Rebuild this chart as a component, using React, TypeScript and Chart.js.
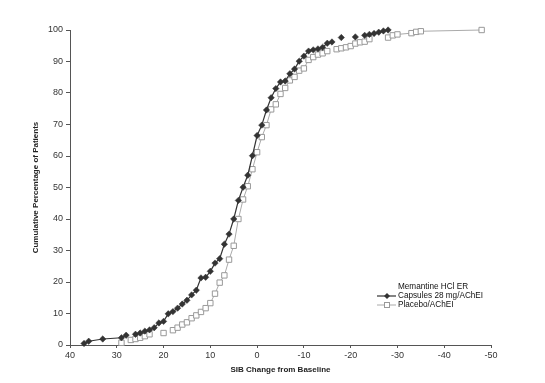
import React, { useEffect, useRef } from "react";
import { Chart, registerables } from "chart.js";

Chart.register(...registerables);

const memX = [37, 36, 33, 29, 28, 26, 25, 24, 23, 22, 21, 20, 19, 18, 17, 16, 15, 14, 13, 12, 11, 10, 9, 8, 7, 6, 5, 4, 3, 2, 1, 0, -1, -2, -3, -4, -5, -6, -7, -8, -9, -10, -11, -12, -13, -14, -15, -16, -18, -21, -23, -24, -25, -26, -27, -28];
const memY = [0.5, 1.2, 1.9, 2.3, 3.1, 3.4, 3.8, 4.4, 4.8, 5.5, 7.0, 7.5, 9.9, 10.6, 11.7, 13.0, 14.2, 15.9, 17.4, 21.3, 21.5, 23.4, 26.0, 27.4, 32.0, 35.2, 40.0, 45.9, 50.1, 53.9, 60.1, 66.5, 69.8, 74.6, 78.5, 81.4, 83.5, 83.8, 86.1, 87.6, 90.1, 91.7, 93.3, 93.7, 94.0, 94.5, 95.8, 96.2, 97.6, 97.8, 98.3, 98.6, 98.9, 99.3, 99.7, 100];

const plaX = [29, 27, 26, 25, 24, 23, 20, 18, 17, 16, 15, 14, 13, 12, 11, 10, 9, 8, 7, 6, 5, 4, 3, 2, 1, 0, -1, -2, -3, -4, -5, -6, -7, -8, -9, -10, -11, -12, -13, -14, -15, -17, -18, -19, -20, -21, -22, -23, -24, -28, -29, -30, -33, -34, -35, -48];
const plaY = [0.7, 1.6, 1.9, 2.3, 2.8, 3.4, 3.8, 4.7, 5.5, 6.5, 7.2, 8.5, 9.4, 10.5, 11.7, 13.3, 16.3, 19.8, 22.1, 27.1, 31.5, 40.0, 46.2, 50.4, 55.8, 61.2, 66.0, 69.8, 74.8, 76.4, 79.7, 81.6, 84.0, 85.1, 87.1, 87.8, 90.5, 91.4, 92.2, 92.6, 93.3, 93.9, 94.2, 94.5, 94.9, 95.7, 96.1, 96.3, 97.1, 97.6, 98.3, 98.6, 99.0, 99.4, 99.6, 100];

const xTickValues = [40, 30, 20, 10, 0, -10, -20, -30, -40, -50];
const yTickValues = [0, 10, 20, 30, 40, 50, 60, 70, 80, 90, 100];

const legendLines = ["Memantine HCl ER", "Capsules 28 mg/AChEI", "Placebo/AChEI"];
const xTitle = "SIB Change from Baseline";
const yTitle = "Cumulative Percentage of Patients";

const MEM_COLOR = "#333333";
const PLA_LINE = "#aaaaaa";
const PLA_POINT = "#999999";
const FONT = "'Liberation Sans', Arial, Helvetica, sans-serif";

// rows present in the source table (union of x values); a series line breaks where it has a blank row
const allX = Array.from(new Set([...memX, ...plaX]));
const hasGapBetween = (a: number, b: number) => {
  const lo = Math.min(a, b), hi = Math.max(a, b);
  return allX.some((v) => v > lo && v < hi);
};

const legendPlugin = {
  id: "customLegend",
  afterDraw(chart: any) {
    const ctx = chart.ctx;
    ctx.save();
    ctx.font = `8.2px ${FONT}`;
    ctx.fillStyle = "#111";
    ctx.textBaseline = "middle";
    ctx.textAlign = "left";
    const tx = 398;
    ctx.fillText(legendLines[0], tx, 287);
    ctx.fillText(legendLines[1], tx, 296);
    ctx.fillText(legendLines[2], tx, 305);
    // memantine sample
    ctx.strokeStyle = MEM_COLOR;
    ctx.lineWidth = 1.2;
    ctx.beginPath();
    ctx.moveTo(377, 296);
    ctx.lineTo(396, 296);
    ctx.stroke();
    ctx.fillStyle = MEM_COLOR;
    ctx.beginPath();
    ctx.moveTo(387, 293);
    ctx.lineTo(390, 296);
    ctx.lineTo(387, 299);
    ctx.lineTo(384, 296);
    ctx.closePath();
    ctx.fill();
    // placebo sample
    ctx.strokeStyle = PLA_LINE;
    ctx.lineWidth = 1;
    ctx.beginPath();
    ctx.moveTo(377, 305);
    ctx.lineTo(396, 305);
    ctx.stroke();
    ctx.fillStyle = "#fff";
    ctx.fillRect(384.5, 302.5, 5, 5);
    ctx.strokeStyle = PLA_POINT;
    ctx.strokeRect(384.5, 302.5, 5, 5);
    ctx.restore();
  },
};

export default function App() {
  const ref = useRef<HTMLCanvasElement | null>(null);
  useEffect(() => {
    document.body.style.margin = "0";
    if (!ref.current) return;
    const chart = new Chart(ref.current, {
      type: "line",
      data: {
        datasets: [
          {
            label: "Memantine HCl ER Capsules 28 mg/AChEI",
            data: memX.map((x, i) => ({ x, y: memY[i] })),
            borderColor: MEM_COLOR,
            backgroundColor: MEM_COLOR,
            borderWidth: 1.2,
            pointStyle: "rectRot",
            pointRadius: 3.2,
            pointBorderWidth: 0.5,
            pointBorderColor: MEM_COLOR,
            pointBackgroundColor: MEM_COLOR,
            tension: 0,
            clip: false,
            segment: {
              borderColor: (c: any) =>
                hasGapBetween(c.p0.parsed.x, c.p1.parsed.x) ? "rgba(0,0,0,0)" : MEM_COLOR,
            },
          } as any,
          {
            label: "Placebo/AChEI",
            data: plaX.map((x, i) => ({ x, y: plaY[i] })),
            borderColor: PLA_LINE,
            backgroundColor: "#fff",
            borderWidth: 1,
            pointStyle: "rect",
            pointRadius: 3.8,
            pointBorderWidth: 1,
            pointBorderColor: PLA_POINT,
            pointBackgroundColor: "#ffffff",
            tension: 0,
            clip: false,
            segment: {
              borderColor: (c: any) =>
                hasGapBetween(c.p0.parsed.x, c.p1.parsed.x) ? "rgba(0,0,0,0)" : PLA_LINE,
            },
          } as any,
        ],
      },
      options: {
        animation: false,
        responsive: false,
        maintainAspectRatio: false,
        layout: { padding: { top: 30, right: 54, left: 0, bottom: 0 } },
        plugins: { legend: { display: false }, tooltip: { enabled: false } },
        scales: {
          x: {
            type: "linear",
            reverse: true,
            min: -50,
            max: 40,
            afterFit: (s: any) => {
              s.height = 38;
            },
            afterBuildTicks: (s: any) => {
              s.ticks = xTickValues.map((v) => ({ value: v }));
            },
            ticks: {
              font: { family: FONT, size: 9 },
              color: "#333",
              padding: 2,
              maxRotation: 0,
              autoSkip: false,
            },
            grid: { display: true, drawOnChartArea: false, drawTicks: true, tickLength: 3, color: "#555" },
            border: { display: true, color: "#555", width: 1 },
            title: {
              display: true,
              text: xTitle,
              font: { family: FONT, size: 8, weight: "bold" },
              color: "#222",
              padding: { top: 0, bottom: 8 },
            },
          },
          y: {
            type: "linear",
            min: 0,
            max: 100,
            afterFit: (s: any) => {
              s.width = 70;
            },
            afterBuildTicks: (s: any) => {
              s.ticks = yTickValues.map((v) => ({ value: v }));
            },
            ticks: {
              font: { family: FONT, size: 9 },
              color: "#333",
              padding: 3,
              autoSkip: false,
            },
            grid: { display: true, drawOnChartArea: false, drawTicks: true, tickLength: 4, color: "#555" },
            border: { display: true, color: "#555", width: 1 },
            title: {
              display: true,
              text: yTitle,
              font: { family: FONT, size: 8, weight: "bold" },
              color: "#222",
              padding: { top: 31, bottom: 0 },
            },
          },
        },
      } as any,
      plugins: [legendPlugin],
    });
    return () => chart.destroy();
  }, []);
  return (
    <div style={{ position: "fixed", left: 0, top: 0, width: 545, height: 383, background: "#fff" }}>
      <canvas ref={ref} width={545} height={383} style={{ width: 545, height: 383, display: "block" }} />
    </div>
  );
}
